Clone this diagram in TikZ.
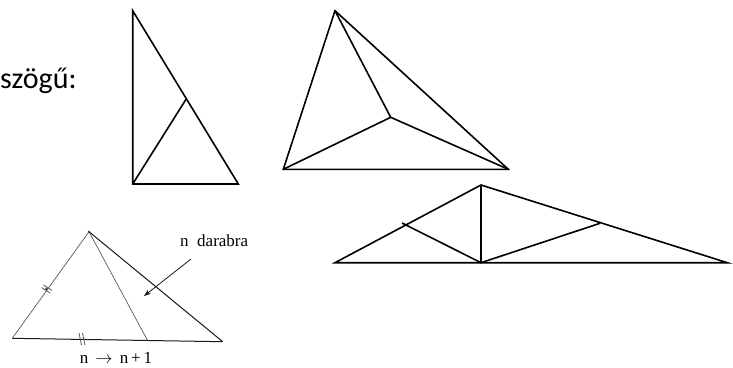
\documentclass[tikz,border=0pt]{standalone}
\usepackage{fontspec}
\usetikzlibrary{arrows.meta}
\setmainfont{Liberation Serif}
\newfontfamily\calib{Carlito}
\begin{document}
\begin{tikzpicture}[x=1pt,y=-1pt,
  fig/.style={line width=1.6pt,line join=miter},
  scan/.style={line width=0.7pt,black!65},
  scandark/.style={line width=1pt,black!90},
  lbl/.style={inner sep=0pt}]
\useasboundingbox (0,0) rectangle (733,367);
% heading text
\node[lbl,anchor=base west] (head) at (0,88) {\calib\fontsize{30}{32}\selectfont szögű:};
% right triangle
\coordinate (A1) at (132.7,10.7);
\coordinate (B1) at (132.7,184);
\coordinate (C1) at (238.3,184);
\coordinate (D1) at (186,99.3);
\draw[fig] (A1) -- (B1) -- (C1) -- cycle;
\draw[fig] (B1) -- (D1);
% acute triangle split in three
\coordinate (A2) at (335,10.7);
\coordinate (B2) at (283.3,169.3);
\coordinate (C2) at (508.3,169.3);
\coordinate (P2) at (390.7,117.3);
\draw[fig] (A2) -- (B2) -- (C2) -- cycle;
\draw[fig] (A2) -- (P2) (B2) -- (P2) (C2) -- (P2);
% obtuse triangle
\coordinate (A3) at (335,262.7);
\coordinate (T3) at (481,185);
\coordinate (C3) at (727.3,262.7);
\coordinate (F3) at (481,262.7);
\coordinate (L3) at (406,225);
\coordinate (R3) at (600,223.3);
\coordinate (L3t) at (402,223);
\draw[fig] (A3) -- (T3) -- (C3) -- cycle;
\draw[fig] (T3) -- (F3);
\draw[fig] (L3t) -- (F3) -- (R3);
% scanned figure
\coordinate (A4) at (89,231.7);
\coordinate (B4) at (12.3,338.3);
\coordinate (C4) at (222.7,341.7);
\coordinate (D4) at (147.3,340);
\draw[scan] (B4) -- (A4) -- (D4);
\draw[scandark] (A4) -- (C4);
\draw[scandark] (B4) -- (C4);
\fill[black!80] (A4) circle (1.2);
% tick marks
\draw[scan,line width=0.8pt] (41.5,287.5) -- (50,293) (43.5,285) -- (52,290.5);
\fill[black!80] (46.5,289) circle (1.3);
\draw[scan,line width=0.8pt] (79,333) -- (81.5,345) (82.5,333) -- (85,345);
% label and arrow
\node[lbl,anchor=base west] (nd) at (180,246.7) {\fontsize{17}{19}\selectfont n\ \ darabra};
\coordinate (arrS) at (190.7,259.3);
\coordinate (arrE) at (144,296);
\draw[scandark,line width=0.8pt,-{Stealth[length=7pt,width=5pt]}] (arrS) -- (arrE);
\node[lbl] (nn) at (116,358) {\fontsize{17}{19}\selectfont n\, $\rightarrow$\, n\,+\,1};
\end{tikzpicture}
\end{document}
